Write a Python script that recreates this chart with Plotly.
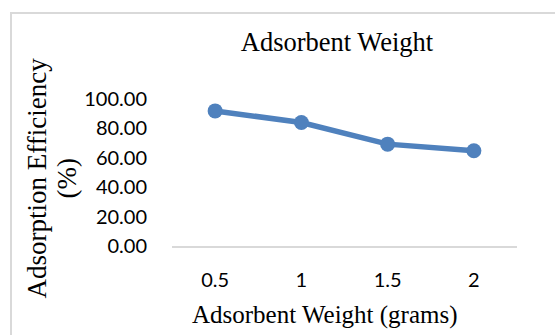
import plotly.graph_objects as go

# Adsorption efficiency against adsorbent dose
weights = ["0.5", "1", "1.5", "2"]
efficiency = [91.9, 84.0, 69.3, 64.8]
y_ticks = [0, 20, 40, 60, 80, 100]
y_tick_text = [f"{v:.2f}" for v in y_ticks]

W, H = 555, 335
ML, MR, MT, MB = 172, 38, 98.5, 89.3
PW, PH = W - ML - MR, H - MT - MB


def px_x(p):
    return (p - ML) / PW


def px_y(p):
    return (H - MB - p) / PH


serif = "Liberation Serif, Times New Roman, serif"
sans = "Lato, Calibri, sans-serif"

fig = go.Figure(
    go.Scatter(
        x=weights,
        y=efficiency,
        mode="lines+markers",
        line=dict(color="#4F81BD", width=5.5),
        marker=dict(color="#4F81BD", size=15),
        cliponaxis=False,
    )
)

fig.update_layout(
    width=W,
    height=H,
    margin=dict(l=ML, r=MR, t=MT, b=MB, pad=0),
    paper_bgcolor="white",
    plot_bgcolor="white",
    showlegend=False,
    title=dict(
        text="Adsorbent Weight",
        font=dict(family=serif, size=26.5, color="black"),
        xref="paper",
        x=px_x(337),
        xanchor="center",
        yref="container",
        y=1 - 42 / H,
        yanchor="middle",
    ),
)

fig.update_xaxes(
    type="category",
    range=[-0.5, 3.5],
    showgrid=False,
    showline=True,
    linecolor="#D9D9D9",
    linewidth=2,
    zeroline=False,
    ticks="outside",
    ticklen=15,
    tickcolor="rgba(0,0,0,0)",
    tickfont=dict(family=sans, size=20, color="black"),
)

fig.update_yaxes(
    range=[0, 100],
    tickvals=y_ticks,
    ticktext=y_tick_text,
    showgrid=False,
    showline=False,
    zeroline=False,
    ticks="outside",
    ticklen=20,
    tickcolor="rgba(0,0,0,0)",
    tickfont=dict(family=sans, size=20, color="black"),
)

# Axis titles
fig.add_annotation(
    text="Adsorbent Weight (grams)",
    xref="paper", yref="paper",
    x=px_x(325), y=px_y(315),
    xanchor="center", yanchor="middle",
    showarrow=False,
    font=dict(family=serif, size=25, color="black"),
)
for line_text, cx in [("Adsorption Efficiency", 37), ("(%)", 67)]:
    fig.add_annotation(
        text=line_text,
        xref="paper", yref="paper",
        x=px_x(cx), y=px_y(178),
        xanchor="center", yanchor="middle",
        textangle=-90,
        showarrow=False,
        font=dict(family=serif, size=27, color="black"),
    )

# Chart-area frame
fig.add_shape(
    type="rect",
    xref="paper", yref="paper",
    x0=px_x(11), y0=px_y(H + 20),
    x1=px_x(W + 20), y1=px_y(12.5),
    line=dict(color="#D9D9D9", width=2),
    fillcolor="rgba(0,0,0,0)",
    layer="below",
)

fig.write_html("out.html")
